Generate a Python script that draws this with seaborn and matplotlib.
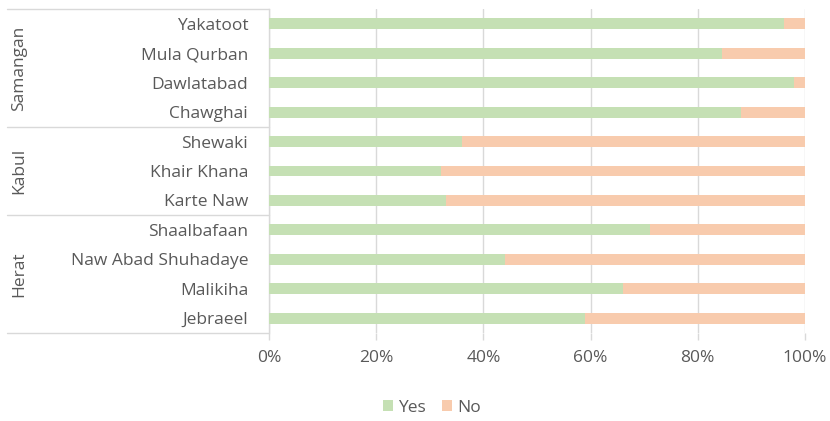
import matplotlib
matplotlib.use("Agg")
import matplotlib.pyplot as plt
from matplotlib.patches import Patch
from matplotlib.lines import Line2D
from matplotlib.ticker import FuncFormatter
import seaborn as sns
import pandas as pd

# Survey responses by district, grouped by province
provinces = ["Samangan", "Kabul", "Herat"]
province_sizes = [4, 3, 4]
districts = ["Yakatoot", "Mula Qurban", "Dawlatabad", "Chawghai",
             "Shewaki", "Khair Khana", "Karte Naw",
             "Shaalbafaan", "Naw Abad Shuhadaye", "Malikiha", "Jebraeel"]
yes_pct = [96, 84.5, 98, 88, 36, 32, 33, 71, 44, 66, 59]
no_pct = [4, 15.5, 2, 12, 64, 68, 67, 29, 56, 34, 41]
x_ticks = [0, 20, 40, 60, 80, 100]

YES_COLOR = "#C5E0B4"
NO_COLOR = "#F8CBAD"
GRID = "#D9D9D9"
TEXT = "#595959"
FS = 12.5

df = pd.DataFrame({"District": districts, "Yes": yes_pct, "No": no_pct})
df["Total"] = df["Yes"] + df["No"]

sns.set_theme(style="white")
plt.rcParams["font.family"] = ["Open Sans", "DejaVu Sans"]

W, H = 830, 421
fig = plt.figure(figsize=(W / 100, H / 100), dpi=100)
x0, x1, y0, y1 = 269, 805, 9, 333
ax = fig.add_axes([x0 / W, 1 - y1 / H, (x1 - x0) / W, (y1 - y0) / H])

sns.barplot(data=df, x="Total", y="District", order=districts, color=NO_COLOR,
            saturation=1, width=0.37, linewidth=0, ax=ax, zorder=2)
sns.barplot(data=df, x="Yes", y="District", order=districts, color=YES_COLOR,
            saturation=1, width=0.37, linewidth=0, ax=ax, zorder=3)

ax.set_xlim(0, 100)
ax.set_ylim(len(districts) - 0.5, -0.5)
ax.set_xlabel("")
ax.set_ylabel("")
ax.set_xticks(x_ticks)
ax.xaxis.set_major_formatter(FuncFormatter(lambda v, p: f"{v:.0f}%"))
ax.grid(axis="x", color=GRID, linewidth=1, zorder=0)
ax.grid(axis="y", visible=False)
for side in ["top", "right", "bottom"]:
    ax.spines[side].set_visible(False)
ax.spines["left"].set_color(GRID)
ax.spines["left"].set_linewidth(1)

ax.xaxis.set_tick_params(which="major", length=5, width=1, color=GRID,
                         labelcolor=TEXT, labelsize=FS, pad=7, bottom=True)
ax.yaxis.set_tick_params(which="major", left=True, length=0, labelcolor=TEXT,
                         labelsize=FS, pad=15)

# Province grouping table on the left
trans = ax.get_yaxis_transform()
left_x = (7 - x0) / (x1 - x0)
boundaries = [-0.5]
for n in province_sizes:
    boundaries.append(boundaries[-1] + n)
for b in boundaries:
    ax.add_line(Line2D([left_x, 0], [b, b], transform=trans, color=GRID,
                       linewidth=1, clip_on=False))
for name, lo, hi in zip(provinces, boundaries[:-1], boundaries[1:]):
    ax.text((19 - x0) / (x1 - x0), (lo + hi) / 2, name, transform=trans,
            rotation=90, ha="center", va="center", fontsize=FS, color=TEXT)

handles = [Patch(facecolor=YES_COLOR, edgecolor="none", label="Yes"),
           Patch(facecolor=NO_COLOR, edgecolor="none", label="No")]
leg = fig.legend(handles=handles, loc="center", bbox_to_anchor=(432 / W, 1 - 408 / H),
                 ncol=2, frameon=False, fontsize=FS, handlelength=0.6,
                 handleheight=0.6, handletextpad=0.3, columnspacing=0.9)
for t in leg.get_texts():
    t.set_color(TEXT)

fig.savefig("out.png", dpi=100)
